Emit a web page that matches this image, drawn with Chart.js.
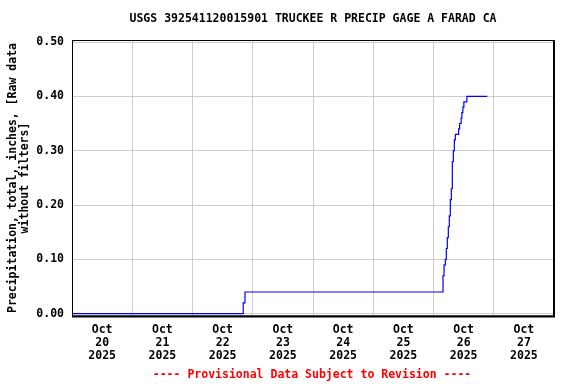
<!DOCTYPE html>
<html>
<head>
<meta charset="utf-8">
<script src="https://cdn.jsdelivr.net/npm/chart.js@4.4.1/dist/chart.umd.min.js"></script>
<style>
  html, body { margin: 0; padding: 0; background: #fff; }
  #wrap { width: 576px; height: 384px; position: relative; }
</style>
</head>
<body>
<div id="wrap"><canvas id="c" width="576" height="384"></canvas></div>
<script>
// ---- data (hours since Oct 20 2025 00:00, cumulative precipitation in inches) ----
const chartTitle = 'USGS 392541120015901 TRUCKEE R PRECIP GAGE A FARAD CA';
const yAxisTitle = ['Precipitation, total, inches, [Raw data', 'without filters]'];
const footerText = '---- Provisional Data Subject to Revision ----';
const dayLabels = [
  ['Oct', '20', '2025'], ['Oct', '21', '2025'], ['Oct', '22', '2025'], ['Oct', '23', '2025'],
  ['Oct', '24', '2025'], ['Oct', '25', '2025'], ['Oct', '26', '2025'], ['Oct', '27', '2025']
];
const yTickValues = [0, 0.1, 0.2, 0.3, 0.4, 0.5];
const stepHours = [0, 68.2, 68.9, 147.8, 148.2, 148.7, 149.1, 149.5, 149.9, 150.3, 150.7, 151.1,
  151.5, 151.9, 152.3, 152.7, 154.0, 154.4, 155.0, 155.3, 155.7, 156.1, 157.3, 165.4];
const precipInches = [0, 0.02, 0.04, 0.07, 0.09, 0.10, 0.12, 0.14, 0.16, 0.18, 0.21, 0.23,
  0.28, 0.30, 0.32, 0.33, 0.34, 0.35, 0.36, 0.37, 0.38, 0.39, 0.40, 0.40];

const points = stepHours.map((h, i) => ({ x: h, y: precipInches[i] }));
const FONT = 'DejaVu Sans Mono';
const fnt = { family: FONT, size: 11.5, weight: 'bold' };

const decor = {
  id: 'decor',
  afterDraw(chart) {
    const ctx = chart.ctx, a = chart.chartArea;
    ctx.save();
    ctx.strokeStyle = '#000';
    ctx.lineWidth = 1;
    ctx.strokeRect(a.left + 0.5, a.top + 0.5, a.right - a.left - 0.5, a.bottom - a.top - 0.5);
    ctx.lineWidth = 2;
    ctx.beginPath();
    ctx.moveTo(a.right, a.top); ctx.lineTo(a.right, a.bottom + 1);
    ctx.moveTo(a.left, a.bottom + 0.5); ctx.lineTo(a.right + 1, a.bottom + 0.5);
    ctx.stroke();
    ctx.font = 'bold 11.5px "' + FONT + '"';
    ctx.textAlign = 'center';
    ctx.textBaseline = 'middle';
    ctx.fillStyle = '#000';
    ctx.fillText(chartTitle, (a.left + a.right) / 2, 19);
    ctx.fillStyle = '#ff0000';
    ctx.fillText(footerText, (a.left + a.right) / 2 - 1, 375);
    ctx.restore();
  }
};

new Chart(document.getElementById('c'), {
  type: 'line',
  data: {
    datasets: [{
      data: points,
      stepped: true,
      borderColor: '#0000ff',
      borderWidth: 1.2,
      pointRadius: 0,
      fill: false
    }]
  },
  options: {
    responsive: false,
    animation: false,
    events: [],
    layout: { padding: { left: 0, right: 22, top: 40, bottom: 0 } },
    plugins: { legend: { display: false }, title: { display: false }, tooltip: { enabled: false } },
    scales: {
      x: {
        type: 'linear',
        min: 0,
        max: 192,
        afterFit(s) { s.height = 68; },
        afterBuildTicks(s) {
          const t = [];
          for (let v = 0; v <= 192; v += 12) t.push({ value: v });
          s.ticks = t;
        },
        border: { display: false },
        grid: {
          drawTicks: false,
          lineWidth: 1,
          color: (c) => (c.tick && c.tick.value % 24 === 0) ? '#cccccc' : 'rgba(0,0,0,0)'
        },
        ticks: {
          autoSkip: false,
          maxRotation: 0,
          minRotation: 0,
          padding: 8,
          color: '#000',
          font: { family: FONT, size: 11.5, weight: 'bold', lineHeight: '13px' },
          callback: (v) => (v % 24 === 12) ? dayLabels[(v - 12) / 24] : ''
        }
      },
      y: {
        type: 'linear',
        min: -0.0042,
        max: 0.5037,
        afterFit(s) { s.width = 72; },
        afterBuildTicks(s) { s.ticks = yTickValues.map(v => ({ value: v })); },
        border: { display: false },
        grid: { drawTicks: false, color: '#cccccc', lineWidth: 1 },
        ticks: {
          padding: 8,
          color: '#000',
          font: fnt,
          callback: (v) => v.toFixed(2)
        },
        title: {
          display: true,
          text: yAxisTitle,
          color: '#000',
          font: { family: FONT, size: 11.5, weight: 'bold', lineHeight: '12px' },
          padding: { top: 7, bottom: 0 }
        }
      }
    }
  },
  plugins: [decor]
});
</script>
</body>
</html>
